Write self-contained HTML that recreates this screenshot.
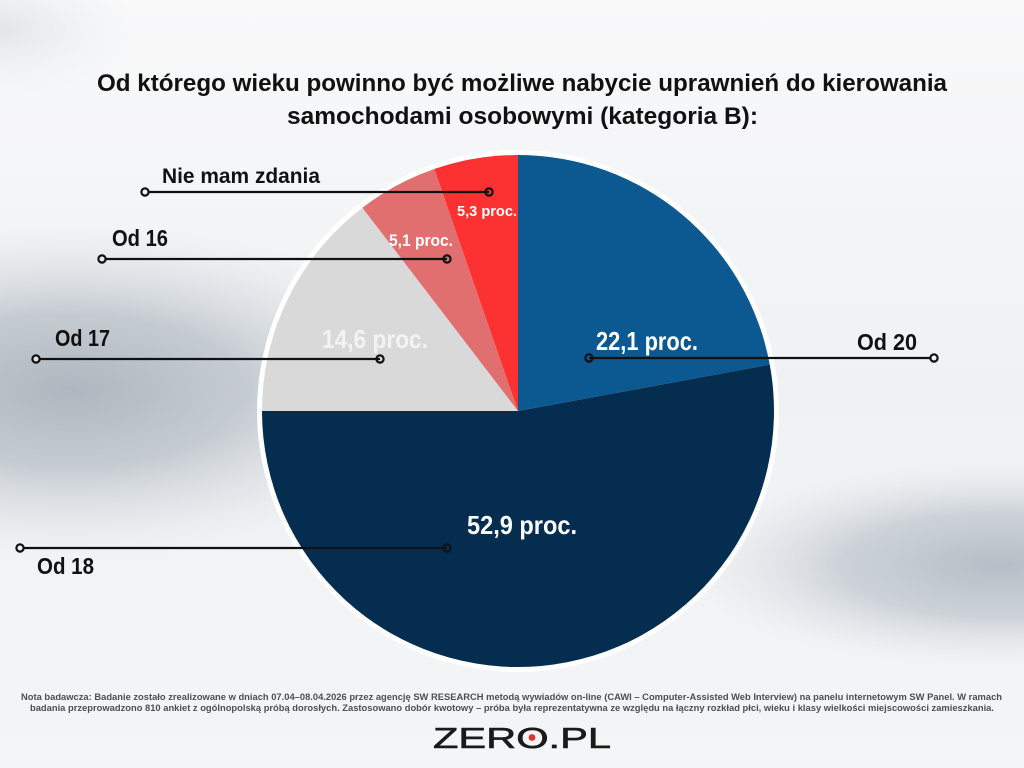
<!DOCTYPE html>
<html><head><meta charset="utf-8"><style>
html,body{margin:0;padding:0;width:1024px;height:768px;overflow:hidden;background:#f4f5f6}
svg{display:block}
text{font-family:"Liberation Sans",sans-serif}
</style></head><body>
<svg width="1024" height="768" viewBox="0 0 1024 768" xmlns="http://www.w3.org/2000/svg">
<defs>
<linearGradient id="bg" x1="0" y1="0" x2="0" y2="1">
<stop offset="0" stop-color="#f9f9fa"/><stop offset="0.5" stop-color="#eff1f3"/><stop offset="1" stop-color="#f4f5f7"/>
</linearGradient>
<radialGradient id="blobL" cx="70" cy="390" r="1" gradientUnits="userSpaceOnUse" gradientTransform="translate(70 390) scale(390 170) translate(-70 -390)">
<stop offset="0" stop-color="#aeb7bf"/><stop offset="0.45" stop-color="#c0c7cd" stop-opacity="0.9"/><stop offset="1" stop-color="#e0e4e7" stop-opacity="0"/>
</radialGradient>
<radialGradient id="blobR" cx="1000" cy="565" r="1" gradientUnits="userSpaceOnUse" gradientTransform="translate(1000 565) scale(320 105) translate(-1000 -565)">
<stop offset="0" stop-color="#b5bec6"/><stop offset="0.5" stop-color="#c6cdd3" stop-opacity="0.85"/><stop offset="1" stop-color="#e4e7ea" stop-opacity="0"/>
</radialGradient>
<radialGradient id="blobT" cx="0" cy="30" r="1" gradientUnits="userSpaceOnUse" gradientTransform="translate(0 30) scale(140 70) translate(0 -30)">
<stop offset="0" stop-color="#e2e5e8"/><stop offset="1" stop-color="#eef0f2" stop-opacity="0"/>
</radialGradient>
</defs>
<rect width="1024" height="768" fill="url(#bg)"/>
<rect width="1024" height="768" fill="url(#blobL)"/>
<rect width="1024" height="768" fill="url(#blobR)"/>
<rect width="1024" height="768" fill="url(#blobT)"/>

<!-- Title -->
<text x="97" y="91" font-size="24" font-weight="700" fill="#111" textLength="850" lengthAdjust="spacingAndGlyphs">Od którego wieku powinno być możliwe nabycie uprawnień do kierowania</text>
<text x="287" y="124" font-size="24" font-weight="700" fill="#111" textLength="471" lengthAdjust="spacingAndGlyphs">samochodami osobowymi (kategoria B):</text>

<!-- Pie -->
<circle cx="518" cy="411" r="261" fill="#ffffff"/>
<path d="M518,411 L518,155 A256,256 0 0 1 769.76,364.61 Z" fill="#0c5890"/>
<path d="M518,411 L769.76,364.61 A256,256 0 1 1 262,411 Z" fill="#042d50"/>
<path d="M518,411 L262,411 A256,256 0 0 1 362.40,207.71 Z" fill="#d9d9d9"/>
<path d="M518,411 L362.40,207.71 A256,256 0 0 1 434.32,169.06 Z" fill="#e26f6f"/>
<path d="M518,411 L434.32,169.06 A256,256 0 0 1 518,155 Z" fill="#fc3131"/>

<!-- Leader lines -->
<g stroke="#111" stroke-width="2.2" fill="none">
<line x1="145" y1="192" x2="489" y2="192"/>
<line x1="102" y1="259" x2="447" y2="259"/>
<line x1="36" y1="359" x2="380" y2="359"/>
<line x1="20" y1="548" x2="447" y2="548"/>
<line x1="589" y1="358" x2="934" y2="358"/>
<circle cx="145" cy="192" r="3.6" fill="#f2f3f4"/><circle cx="489" cy="192" r="3.6"/>
<circle cx="102" cy="259" r="3.6" fill="#e8ebee"/><circle cx="447" cy="259" r="3.6"/>
<circle cx="36" cy="359" r="3.6" fill="#e0e4e7"/><circle cx="380" cy="359" r="3.6"/>
<circle cx="20" cy="548" r="3.6" fill="#f0f1f2"/><circle cx="447" cy="548" r="3.6"/>
<circle cx="589" cy="358" r="3.6"/><circle cx="934" cy="358" r="3.6" fill="#f5f6f7"/>
</g>

<!-- Category labels -->
<g font-weight="700" fill="#111">
<text x="162" y="183" font-size="21" textLength="158" lengthAdjust="spacingAndGlyphs">Nie mam zdania</text>
<text x="112" y="246" font-size="23" textLength="56" lengthAdjust="spacingAndGlyphs">Od 16</text>
<text x="55" y="346" font-size="23" textLength="55" lengthAdjust="spacingAndGlyphs">Od 17</text>
<text x="37" y="574" font-size="23" textLength="57" lengthAdjust="spacingAndGlyphs">Od 18</text>
<text x="857" y="350" font-size="23" textLength="60" lengthAdjust="spacingAndGlyphs">Od 20</text>
</g>

<!-- Percentage labels -->
<g font-weight="700" fill="#ffffff">
<text x="596" y="350" font-size="26" textLength="102" lengthAdjust="spacingAndGlyphs">22,1 proc.</text>
<text x="467" y="534" font-size="26" textLength="110" lengthAdjust="spacingAndGlyphs">52,9 proc.</text>
<text x="322" y="348" font-size="26" textLength="106" lengthAdjust="spacingAndGlyphs" fill="#f3f3f3">14,6 proc.</text>
<text x="389" y="246" font-size="17" textLength="64" lengthAdjust="spacingAndGlyphs">5,1 proc.</text>
<text x="457" y="216" font-size="15" textLength="60" lengthAdjust="spacingAndGlyphs">5,3 proc.</text>
</g>

<!-- Footnote -->
<g font-weight="700" fill="#4e4e4e" font-size="9">
<text x="21" y="700" textLength="981" lengthAdjust="spacingAndGlyphs">Nota badawcza: Badanie zostało zrealizowane w dniach 07.04–08.04.2026 przez agencję SW RESEARCH metodą wywiadów on-line (CAWI – Computer-Assisted Web Interview) na panelu internetowym SW Panel. W ramach</text>
<text x="30" y="711" textLength="964" lengthAdjust="spacingAndGlyphs">badania przeprowadzono 810 ankiet z ogólnopolską próbą dorosłych. Zastosowano dobór kwotowy – próba była reprezentatywna ze względu na łączny rozkład płci, wieku i klasy wielkości miejscowości zamieszkania.</text>
</g>

<!-- Logo -->
<text x="433" y="748" font-size="29" font-weight="400" fill="#1a1a1a" stroke="#1a1a1a" stroke-width="0.6" textLength="178" lengthAdjust="spacingAndGlyphs">ZERO.PL</text>
<circle cx="532" cy="737.5" r="3.4" fill="#e8302f"/>
</svg>
</body></html>
